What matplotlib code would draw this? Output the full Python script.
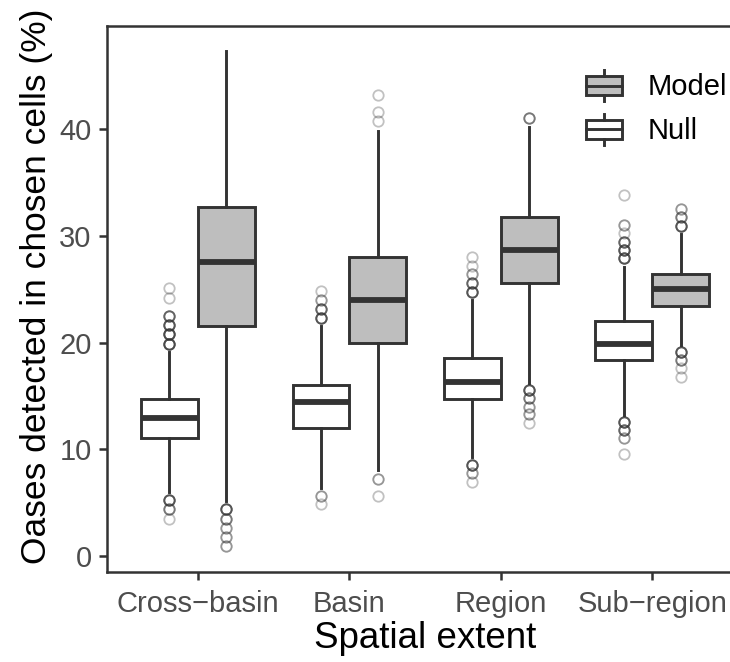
import matplotlib
matplotlib.use("Agg")
import matplotlib.pyplot as plt
from matplotlib.patches import Patch, Rectangle
from matplotlib.lines import Line2D
from matplotlib.legend_handler import HandlerBase

plt.rcParams['font.family'] = ['Liberation Sans', 'DejaVu Sans']

# spatial extents on the x axis
categories = ["Cross\u2212basin", "Basin", "Region", "Sub\u2212region"]

# box statistics, null model (white boxes)
null_lo = [6.0, 6.4, 9.3, 13.2]
null_q1 = [11.1, 12.0, 14.7, 18.4]
null_med = [12.9, 14.4, 16.3, 19.85]
null_q3 = [14.7, 16.0, 18.6, 22.05]
null_hi = [19.1, 21.6, 24.0, 27.1]

# box statistics, fitted model (grey boxes)
model_lo = [5.2, 8.1, 16.2, 19.8]
model_q1 = [21.55, 20.0, 25.6, 23.45]
model_med = [27.6, 24.0, 28.7, 25.0]
model_q3 = [32.75, 28.0, 31.8, 26.45]
model_hi = [47.4, 39.9, 40.2, 30.2]

# outliers; repeated values are points that sit on top of each other
null_fliers = [
    [19.9]*6 + [20.8]*6 + [21.65]*5 + [22.5]*4 + [24.15, 25.1] + [5.25]*5 + [4.4]*3 + [3.45],
    [22.35]*5 + [23.2]*4 + [24.05]*2 + [24.85] + [5.65]*2 + [4.85],
    [24.8]*5 + [25.6]*4 + [26.4]*2 + [27.2, 28.05] + [8.55]*5 + [7.75]*2 + [6.95],
    [27.9]*5 + [28.7]*5 + [29.45]*4 + [30.25] + [31.0]*2 + [33.85] + [12.6]*5 + [11.8]*4 + [11.05]*2 + [9.55],
]
model_fliers = [
    [4.4]*5 + [3.5]*3 + [2.6]*2 + [1.75]*2 + [0.9]*2,
    [40.8, 41.6, 43.2] + [7.2]*2 + [5.6],
    [41.1]*3 + [15.55]*5 + [14.8]*3 + [14.0]*2 + [13.3]*2 + [12.45],
    [30.95]*5 + [31.75]*3 + [32.5]*2 + [19.15]*5 + [18.35]*3 + [17.6, 16.8],
]

dark = '#333333'
grey_fill = '#BEBEBE'
lw = 2.1


def make_stats(lo, q1, med, q3, hi, fliers):
    return [dict(whislo=lo[i], q1=q1[i], med=med[i], q3=q3[i], whishi=hi[i],
                 fliers=fliers[i]) for i in range(len(lo))]


class HandlerBoxKey(HandlerBase):
    # small boxplot glyph for the legend
    def create_artists(self, legend, orig_handle, xdescent, ydescent,
                       width, height, fontsize, trans):
        x0, y0 = -xdescent, -ydescent
        box = Rectangle((x0, y0 + 0.19*height), width, 0.62*height,
                        facecolor=orig_handle.get_facecolor(), edgecolor=dark,
                        lw=lw, transform=trans)
        mid = Line2D([x0, x0 + width], [y0 + height/2]*2, color=dark, lw=lw,
                     transform=trans)
        xc = x0 + width/2
        top = Line2D([xc, xc], [y0 + 0.81*height, y0 + height], color=dark,
                     lw=lw, transform=trans)
        bot = Line2D([xc, xc], [y0, y0 + 0.19*height], color=dark, lw=lw,
                     transform=trans)
        return [box, mid, top, bot]


fig = plt.figure(figsize=(7.3, 6.62), dpi=100)
ax = fig.add_axes([107/730, 90/662, 636/730, 546/662])

pos = list(range(len(categories)))
off = 0.1875
bw = 0.375

common = dict(patch_artist=True, showcaps=False, widths=bw,
              whiskerprops=dict(color=dark, lw=lw),
              medianprops=dict(color=dark, lw=4.2, solid_capstyle='butt'),
              flierprops=dict(marker='o', markerfacecolor='none',
                              markeredgecolor=dark, markeredgewidth=1.3,
                              markersize=7.5, alpha=0.3, linestyle='none'))

ax.bxp(make_stats(null_lo, null_q1, null_med, null_q3, null_hi, null_fliers),
       positions=[p - off for p in pos],
       boxprops=dict(facecolor='white', edgecolor=dark, lw=lw), **common)
ax.bxp(make_stats(model_lo, model_q1, model_med, model_q3, model_hi, model_fliers),
       positions=[p + off for p in pos],
       boxprops=dict(facecolor=grey_fill, edgecolor=dark, lw=lw), **common)

ax.set_xlim(-0.6, 3.6)
ax.set_ylim(-1.5, 49.7)
ax.set_xticks(pos)
ax.set_xticklabels(categories)
ax.set_yticks([0, 10, 20, 30, 40])

for s in ax.spines.values():
    s.set_color(dark)
    s.set_linewidth(1.8)
ax.tick_params(axis='both', direction='out', length=6, width=1.8,
               color=dark, labelcolor='#4D4D4D', labelsize=21)
ax.tick_params(axis='x', pad=7)
ax.tick_params(axis='y', pad=5)

ax.set_xlabel("Spatial extent", fontsize=26.5, labelpad=2)
ax.set_ylabel("Oases detected in chosen cells (%)", fontsize=25.5)
ax.yaxis.set_label_coords(-0.085, 0.524)

handles = [Patch(facecolor=grey_fill), Patch(facecolor='white')]
ax.legend(handles, ["Model", "Null"], handler_map={Patch: HandlerBoxKey()},
          loc='upper left', bbox_to_anchor=(586/730, 1 - 70/662),
          bbox_transform=fig.transFigure, frameon=False, fontsize=21,
          borderpad=0, borderaxespad=0, handlelength=1.24, handleheight=1.28,
          labelspacing=0.42, handletextpad=0.86)

fig.savefig("out.png", dpi=100)
